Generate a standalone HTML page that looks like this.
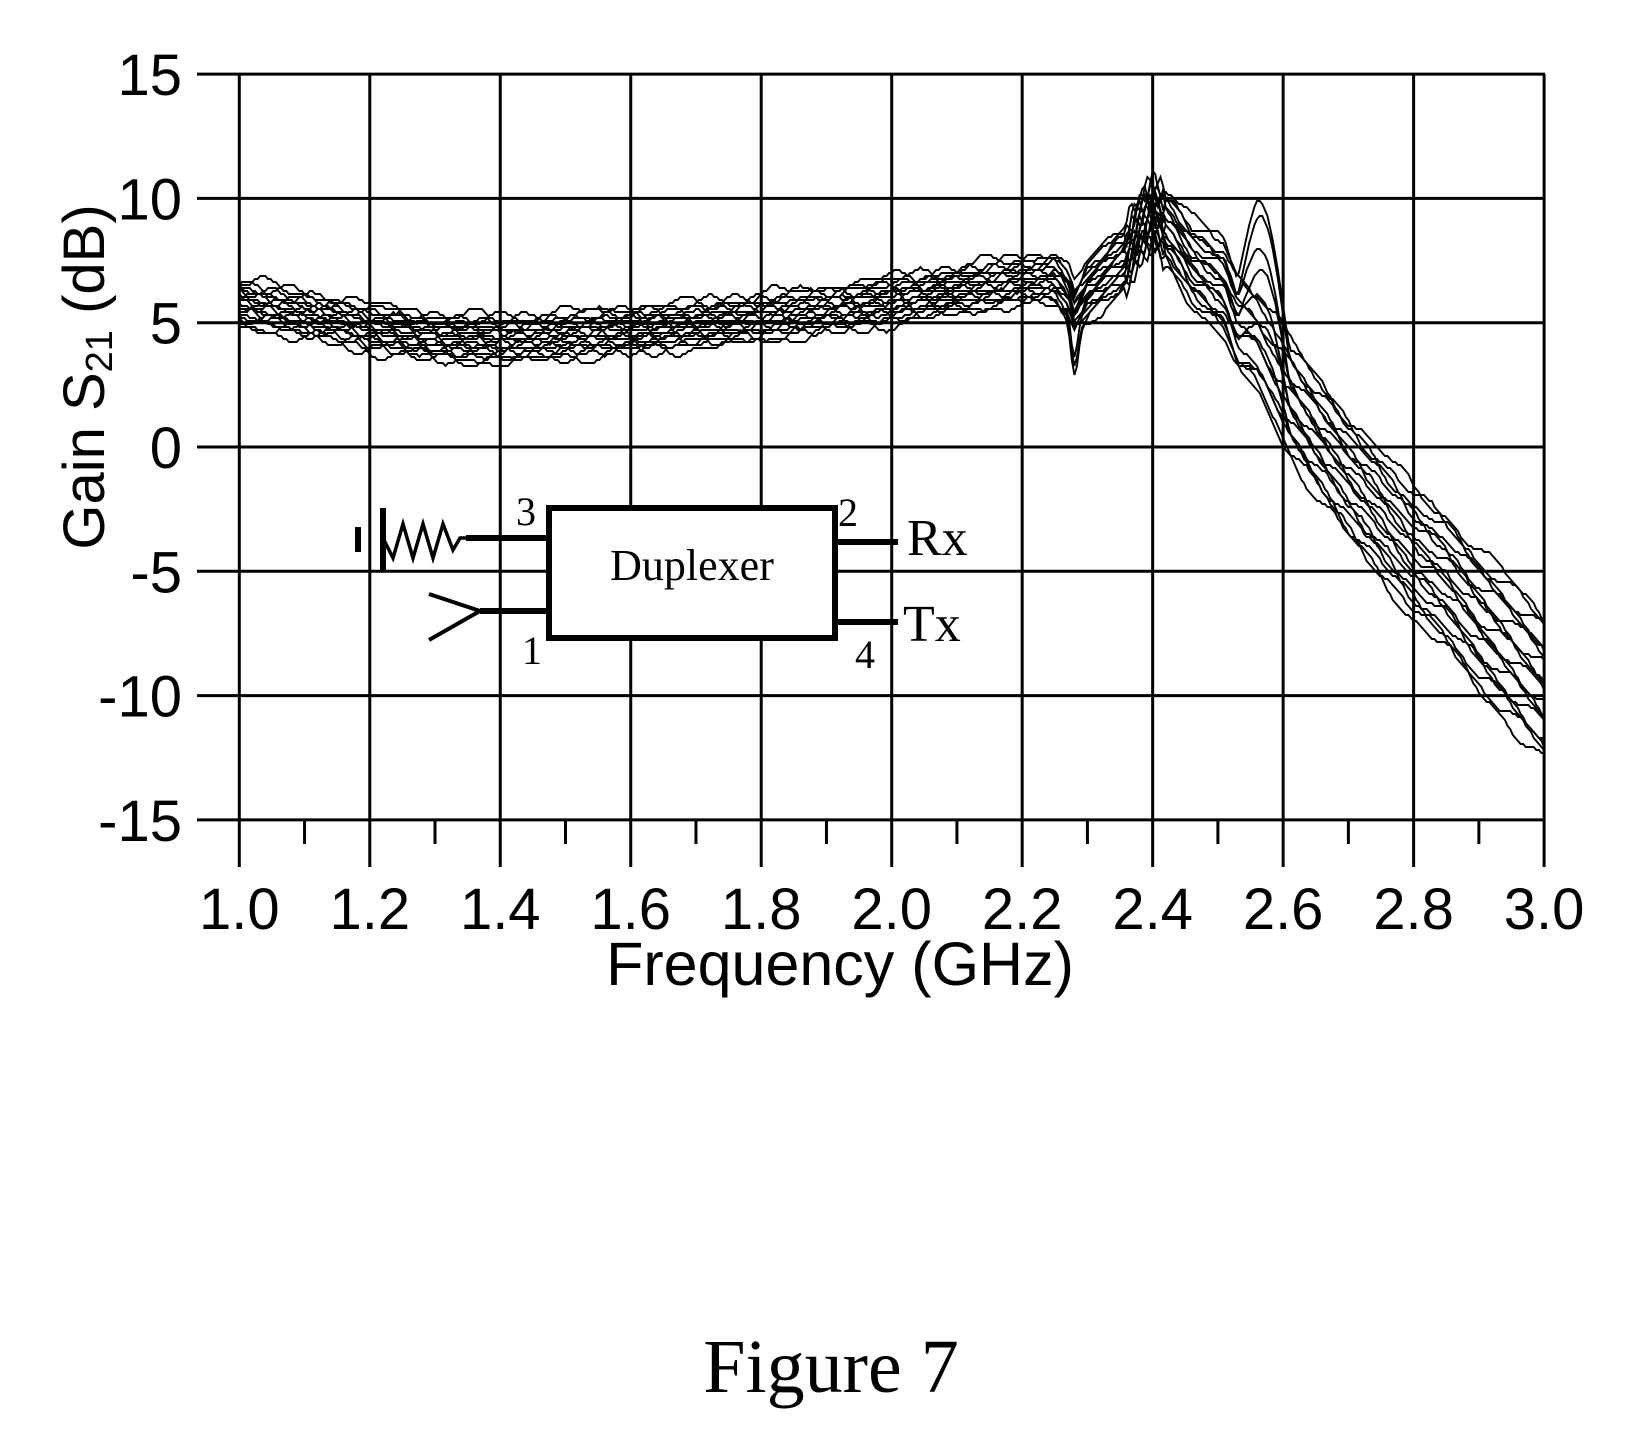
<!DOCTYPE html>
<html><head><meta charset="utf-8"><style>
html,body{margin:0;padding:0;background:#fff;}
svg{display:block;}
</style></head><body>
<svg id="s" width="1646" height="1446" viewBox="0 0 1646 1446" xmlns="http://www.w3.org/2000/svg">
<rect width="1646" height="1446" fill="#fff"/>
<g id="grid" stroke="#000" stroke-width="3"></g>
<g id="curves" fill="none" stroke="#000" stroke-width="1.9"></g>
<g font-family="Liberation Sans, sans-serif" font-size="58" fill="#000" id="ylab" text-anchor="end"></g>
<g font-family="Liberation Sans, sans-serif" font-size="58" fill="#000" id="xlab" text-anchor="middle"></g>
<text x="840" y="985" font-family="Liberation Sans, sans-serif" font-size="61" text-anchor="middle">Frequency (GHz)</text>
<text transform="translate(104,377) rotate(-90)" font-family="Liberation Sans, sans-serif" font-size="58" text-anchor="middle">Gain S<tspan font-size="38" dy="8">21</tspan><tspan dy="-8"> (dB)</tspan></text>
<!-- schematic -->
<rect x="549" y="508" width="286" height="130" fill="#fff" stroke="#000" stroke-width="6"/>
<g stroke="#000" stroke-width="6" fill="none">
<line x1="466" y1="538" x2="549" y2="538"/>
<line x1="480" y1="611" x2="549" y2="611"/>
<line x1="835" y1="542" x2="898" y2="542"/>
<line x1="835" y1="622" x2="898" y2="622"/>
<line x1="383" y1="508" x2="383" y2="570"/>
<line x1="358" y1="527" x2="358" y2="552"/>
</g>
<polyline points="383,538 393,558 403,524 413,558 423,524 433,558 443,524 453,550 460,538 466,538" fill="none" stroke="#000" stroke-width="3.5"/>
<polyline points="429,594 480,611 429,640" fill="none" stroke="#000" stroke-width="4"/>
<g font-family="Liberation Serif, serif" fill="#000">
<text x="692" y="580" font-size="44" text-anchor="middle">Duplexer</text>
<text x="907" y="555" font-size="52">Rx</text>
<text x="903" y="641" font-size="52">Tx</text>
<text x="516" y="525" font-size="40">3</text>
<text x="838" y="526" font-size="40">2</text>
<text x="522" y="664" font-size="40">1</text>
<text x="855" y="668" font-size="40">4</text>
<text x="831" y="1392" font-size="76" text-anchor="middle">Figure 7</text>
</g>
</svg>
<script>
(function(){
var NS="http://www.w3.org/2000/svg";
function X(f){return 239.3+(f-1)*652.4;}
function Y(d){return 447-d*24.86;}
var g=document.getElementById('grid');
function ln(x1,y1,x2,y2,w){var l=document.createElementNS(NS,'line');l.setAttribute('x1',x1);l.setAttribute('y1',y1);l.setAttribute('x2',x2);l.setAttribute('y2',y2);if(w)l.setAttribute('stroke-width',w);g.appendChild(l);}
for(var i=0;i<=10;i++){var x=X(1+i*0.2);ln(x,74,x,867);}
for(var j=0;j<=6;j++){var y=Y(15-j*5);ln(197,y,1545,y);}
for(var i=0;i<10;i++){var x=X(1.1+i*0.2);ln(x,820,x,844);}
var yl=document.getElementById('ylab');
var yv=[15,10,5,0,-5,-10,-15];
yv.forEach(function(v){var t=document.createElementNS(NS,'text');t.setAttribute('x',182);t.setAttribute('y',Y(v)+21);t.textContent=(v<0?'-':'')+Math.abs(v);yl.appendChild(t);});
var xl=document.getElementById('xlab');
for(var i=0;i<=10;i++){var t=document.createElementNS(NS,'text');t.setAttribute('x',X(1+i*0.2));t.setAttribute('y',929);t.textContent=(1+i*0.2).toFixed(1);xl.appendChild(t);}
var C=[[1.0,5.8],[1.1,5.3],[1.2,4.8],[1.3,4.4],[1.4,4.3],[1.5,4.5],[1.6,4.7],[1.7,4.9],[1.8,5.2],[1.9,5.5],[2.0,5.9],[2.1,6.3],[2.2,6.7],[2.25,6.8],[2.27,6.2],[2.28,5.4],[2.30,6.3],[2.33,7.0],[2.36,7.6],[2.38,8.8],[2.40,9.4],[2.43,8.6],[2.46,7.4],[2.49,6.8],[2.51,6.4],[2.53,5.0],[2.56,4.2],[2.6,2.4],[2.65,0.5],[2.7,-1.2],[2.75,-2.7],[2.8,-4.3],[2.85,-5.4],[2.9,-7.0],[2.95,-8.3],[3.0,-9.7]];
function cen(f){for(var k=0;k<C.length-1;k++){if(f<=C[k+1][0]){var a=C[k],b=C[k+1];return a[1]+(b[1]-a[1])*(f-a[0])/(b[0]-a[0]);}}return C[C.length-1][1];}
function wid(f){if(f<2.2)return 1.7;if(f<2.4)return 1.7+(f-2.2)*5;if(f<2.5)return 2.7+(f-2.4)*10;if(f<2.6)return 3.7+(f-2.5)*8;return 4.5+(f-2.6)*3.5;}
var cg=document.getElementById('curves');
var N=18;
for(var i=0;i<N;i++){
 var o=i/(N-1)-0.5;var d='';var ph=i*1.7;
 for(var f=1.0;f<=3.0001;f+=0.004){
  var v=cen(f)+o*wid(f)+0.25*Math.sin(f*40+ph)+0.15*Math.sin(f*97+ph*2);
  if(i%2==0 && f>2.53 && f<2.61){v+=Math.max(0,4*Math.sin((f-2.53)/0.08*Math.PI))*(0.6+o);}
  if(i<3 && f>2.27 && f<2.29){v-=1.2*Math.sin((f-2.27)/0.02*Math.PI);}
  if(f>2.36&&f<2.42){v+=0.4*Math.sin(f*300+ph);}
  var yy=Math.round(Y(v)/3)*3;
  d+=(d?'L':'M')+X(f).toFixed(1)+','+yy;
 }
 var p=document.createElementNS(NS,'path');p.setAttribute('d',d);cg.appendChild(p);
}
})();
</script>
</body></html>
